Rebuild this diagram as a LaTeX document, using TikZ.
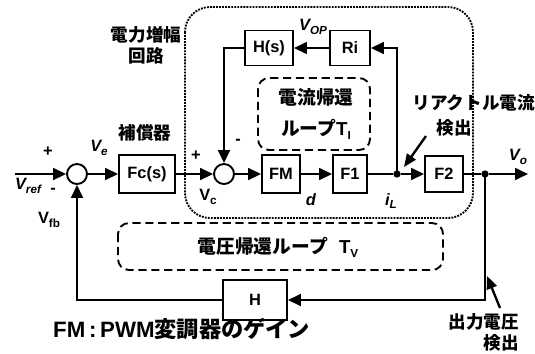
\documentclass[tikz,border=0pt]{standalone}
\usepackage{fontspec}
\setmainfont{Liberation Sans}
\newfontfamily\cjk{Noto Sans CJK JP}
\usetikzlibrary{arrows.meta,calc}
\newcommand\mysub[1]{\raisebox{-0.4ex}{\fontsize{10}{10}\selectfont #1}}
\begin{document}
\begin{tikzpicture}[x=0.03cm,y=-0.03cm,
  blk/.style={draw, line width=1.6pt, inner sep=0pt, font=\fontsize{14}{14}\selectfont\bfseries},
  sumc/.style={circle, draw, line width=1.6pt, minimum size=0.6cm, inner sep=0pt},
  sig/.style={line width=2pt, -{Triangle[length=11pt,width=10pt]}},
  ln/.style={line width=2pt},
  dotn/.style={circle, fill, minimum size=0.22cm, inner sep=0pt},
  lbl/.style={font=\fontsize{14}{14}\selectfont\bfseries, inner sep=0pt},
  jp/.style={font=\fontsize{15}{18}\selectfont\cjk\bfseries, inner sep=0pt, align=center},
  dbox/.style={dash pattern=on 7pt off 4pt, line width=1.6pt, rounded corners=0.33cm},
  pbox/.style={densely dotted, line width=1.6pt, rounded corners=0.75cm},
  note/.style={line width=2pt, -{Triangle[length=11pt,width=9pt]}}
]
\useasboundingbox (0,0) rectangle (535,353);

% enclosures
\draw[pbox] (185,7) rectangle (473,218);
\draw[dbox] (258,78) rectangle (370,150);
\draw[dbox] (118,223) rectangle (443,270);

% blocks
\node[sumc] (s1) at (77,174) {};
\node[sumc] (s2) at (224,174) {};
\node[blk, minimum width=1.68cm, minimum height=1.14cm] (fc) at (147,174) {Fc(s)};
\node[blk, minimum width=1.14cm, minimum height=1.14cm] (fm) at (281,174) {FM};
\node[blk, minimum width=1.02cm, minimum height=1.14cm] (f1) at (350,174) {F1};
\node[blk, minimum width=1.14cm, minimum height=1.08cm] (f2) at (444,174) {F2};
\node[blk, minimum width=1.44cm, minimum height=1.05cm] (hs) at (269,48) {H(s)};
\node[blk, minimum width=1.2cm, minimum height=1.05cm] (ri) at (350,48) {Ri};
\node[blk, minimum width=1.92cm, minimum height=1.2cm] (h) at (255,300) {H};
\node[dotn] (il) at (397,174) {};
\node[dotn] (vo) at (485,174) {};
\coordinate (in) at (15,174);
\coordinate (out) at (528,174);

% signals
\draw[sig] (in) -- (s1);
\draw[sig] (s1) -- (fc);
\draw[sig] (fc) -- (s2);
\draw[sig] (s2) -- (fm);
\draw[sig] (fm) -- (f1);
\draw[ln] (f1) -- (il);
\draw[sig] (il) -- (f2);
\draw[ln] (f2) -- (vo);
\draw[sig] (vo) -- (out);
\draw[sig] (il.center) |- (ri);
\draw[sig] (ri) -- (hs);
\draw[sig] (hs) -| (s2);
\draw[sig] (vo.center) |- (h);
\draw[sig] (h) -| (s1);

% signal labels
\node[lbl] (pl1) at (48,152) {+};
\node[lbl] (mi1) at (53,191) {-};
\node[lbl] (vref) at (28,186) {\itshape V\mysub{ref}};
\node[lbl] (vfb) at (49,220) {V\mysub{fb}};
\node[lbl] (ve) at (99,148) {\itshape V\mysub{e}};
\node[lbl] (pl2) at (196,156) {+};
\node[lbl] (mi2) at (238,142) {-};
\node[lbl] (vc) at (208,197) {V\mysub{c}};
\node[lbl] (dl) at (311,200) {\itshape d};
\node[lbl] (iL) at (391,201) {\itshape i\mysub{L}};
\node[lbl] (vop) at (313,27) {\itshape V\mysub{OP}};
\node[lbl] (vol) at (518,157) {\itshape V\mysub{o}};

% Japanese labels
\node[jp] (amp) at (146,45) {電力増幅\\回路};
\node[jp] (comp) at (145,133) {補償器};
\node[jp, font=\fontsize{16}{26}\selectfont\cjk\bfseries] (cl) at (316,114) {電流帰還\\ループ{\fontspec{Liberation Sans}T\mysub{I}}};
\node[jp, font=\fontsize{16}{20}\selectfont\cjk\bfseries] (vl) at (278,247) {電圧帰還ループ\hspace{0.6em}{\fontspec{Liberation Sans}T\mysub{V}}};
\node[jp, anchor=east] (rl) at (535,103) {リアクトル電流};
\node[jp] (rl2) at (454,128) {検出};
\node[jp, anchor=east] (ov) at (519,322) {出力電圧};
\node[jp, anchor=east] (ov2) at (519,343) {検出};
\node[jp, anchor=west, font=\fontsize{19}{20}\selectfont\bfseries] (fmn) at (53,329) {FM\,:\,PWM{\cjk 変調器のゲイン}};

% pointer arrows
\coordinate (a1s) at (426,136);
\coordinate (a1e) at (404,167);
\draw[note] (a1s) -- (a1e);
\coordinate (a2s) at (500,308);
\coordinate (a2e) at (487,276);
\draw[note] (a2s) -- (a2e);
\end{tikzpicture}
\end{document}
